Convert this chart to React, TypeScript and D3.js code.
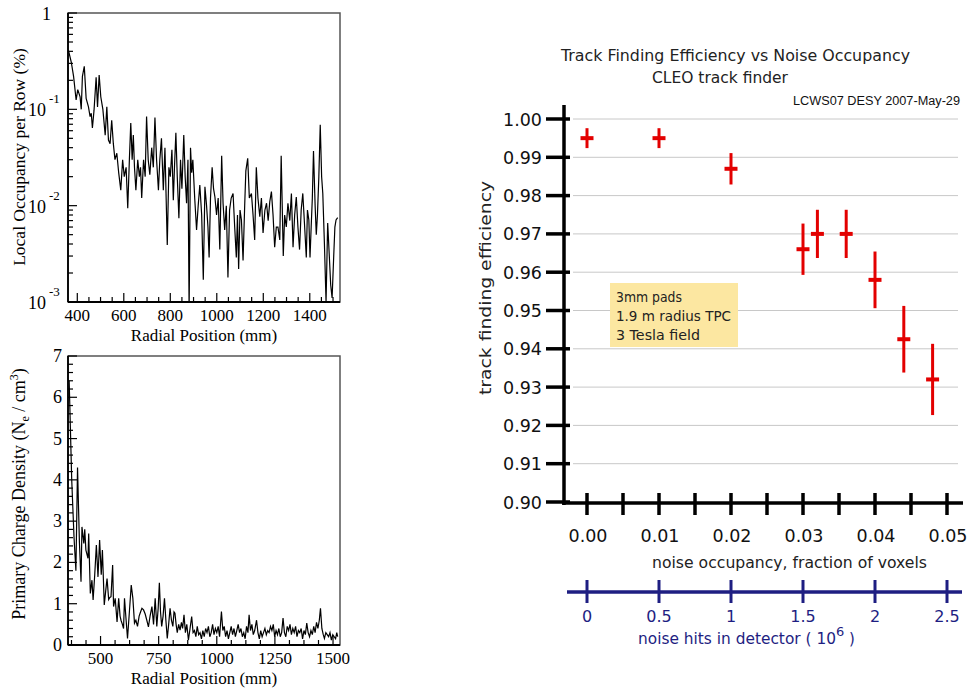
import React from "react";
import * as d3 from "d3";

// ---------- Left top panel: local occupancy per row (%) ----------
const occR = [362,374,384,395,402,412,417,422,430,438,448,455,460,465,472,481,487,494,501,510,520,527,534,541,548,555,562,570,578,587,595,602,610,617,624,630,636,641,646,652,660,667,672,677,685,692,698,705,712,720,727,734,741,749,755,762,770,777,787,794,800,807,813,818,824,830,837,844,850,858,864,870,876,881,887,892,897,905,913,920,927,935,942,949,956,962,967,973,980,986,992,999,1006,1013,1021,1027,1034,1041,1048,1055,1062,1070,1077,1084,1089,1094,1100,1106,1113,1120,1125,1133,1140,1149,1156,1163,1170,1177,1185,1192,1199,1207,1214,1221,1228,1235,1242,1249,1256,1263,1271,1277,1286,1292,1299,1306,1314,1321,1328,1335,1342,1349,1356,1363,1370,1378,1385,1390,1396,1401,1406,1411,1416,1423,1428,1433,1439,1445,1451,1456,1463,1470,1477,1484,1490,1496,1503,1508,1513,1520];
const occVal = [0.41,0.31,0.22,0.125,0.16,0.135,0.10,0.22,0.28,0.13,0.106,0.084,0.091,0.064,0.098,0.215,0.106,0.227,0.135,0.10,0.054,0.106,0.048,0.044,0.077,0.044,0.030,0.035,0.022,0.0145,0.03,0.02,0.025,0.0094,0.03,0.072,0.03,0.054,0.025,0.0145,0.03,0.02,0.025,0.012,0.03,0.02,0.084,0.03,0.021,0.04,0.025,0.082,0.03,0.0145,0.03,0.05,0.0145,0.04,0.0039,0.025,0.02,0.038,0.0114,0.025,0.057,0.02,0.0074,0.03,0.015,0.054,0.02,0.0106,0.03,0.0008,0.04,0.022,0.03,0.012,0.0056,0.01,0.0164,0.008,0.0017,0.0157,0.01,0.006,0.0029,0.012,0.025,0.015,0.0123,0.008,0.012,0.0035,0.033,0.0106,0.0056,0.01,0.0018,0.009,0.012,0.0134,0.006,0.0029,0.008,0.0022,0.009,0.0071,0.0027,0.01,0.023,0.031,0.012,0.0134,0.008,0.0044,0.025,0.012,0.0077,0.012,0.0052,0.009,0.0106,0.007,0.011,0.014,0.008,0.0037,0.006,0.006,0.0044,0.033,0.003,0.008,0.006,0.0106,0.007,0.0134,0.0037,0.008,0.0123,0.006,0.0035,0.009,0.0134,0.006,0.0029,0.009,0.0071,0.0029,0.006,0.012,0.037,0.01,0.005,0.008,0.02,0.069,0.02,0.0134,0.004,0.001,0.0066,0.003,0.0015,0.0011,0.003,0.006,0.0071,0.0075];
const occXTicks = [400, 600, 800, 1000, 1200, 1400];
const occYDecades = [1, 0.1, 0.01, 0.001];
const occYExp = ["", "-1", "-2", "-3"];

// ---------- Left bottom panel: primary charge density ----------
const chgR = [365,376,386,394,401,409,416,420,428,432,437,446,449,456,463,468,475,482,489,496,503,508,516,522,528,535,540,545,552,556,563,571,578,584,588,594,599,603,610,616,624,632,639,646,652,659,666,672,678,685,692,699,706,713,721,728,735,742,748,753,758,763,769,775,781,787,793,799,805,811,816,820,825,830,836,842,848,853,859,865,871,878,885,892,898,904,910,916,922,928,934,940,946,952,958,964,970,976,982,988,994,1000,1006,1012,1020,1026,1032,1038,1044,1050,1056,1062,1068,1074,1080,1086,1092,1098,1104,1110,1116,1122,1128,1134,1139,1145,1151,1157,1163,1171,1177,1183,1189,1195,1201,1207,1213,1219,1225,1231,1237,1243,1249,1255,1261,1267,1273,1279,1285,1291,1297,1303,1309,1315,1321,1327,1333,1339,1345,1351,1357,1363,1369,1375,1381,1387,1393,1399,1405,1411,1417,1423,1429,1435,1441,1446,1452,1458,1463,1469,1475,1481,1487,1493,1499,1505,1511,1516,1520];
const chgVal = [6.4,4.0,2.6,1.8,4.3,2.5,1.53,2.86,2.46,2.8,2.3,2.1,2.7,1.25,1.57,1.09,1.7,2.42,1.65,2.54,1.7,2.3,0.97,1.3,1.61,1.1,1.15,1.17,1.94,0.93,1.13,0.56,1.13,0.7,0.6,0.5,0.4,1.13,0.6,0.16,0.8,1.45,1.13,0.53,0.6,0.45,0.7,0.8,0.89,0.85,0.75,0.6,0.44,0.7,0.93,0.5,1.13,0.45,0.9,1.51,0.8,0.45,0.7,1.13,0.6,0.16,0.5,0.89,0.6,0.45,0.8,0.77,0.5,0.3,0.5,0.36,0.55,0.4,0.73,0.3,0.5,0.12,0.4,0.69,0.3,0.35,0.2,0.45,0.25,0.3,0.15,0.35,0.2,0.4,0.3,0.45,0.2,0.3,0.5,0.25,0.4,0.3,0.45,0.2,0.81,0.35,0.45,0.2,0.35,0.15,0.3,0.45,0.25,0.4,0.2,0.35,0.5,0.3,0.4,0.2,0.3,0.15,0.45,0.3,0.73,0.35,0.5,0.25,0.35,0.6,0.3,0.15,0.35,0.2,0.3,0.4,0.25,0.35,0.3,0.45,0.35,0.5,0.2,0.35,0.25,0.4,0.2,0.3,0.65,0.3,0.2,0.45,0.35,0.5,0.25,0.4,0.3,0.45,0.2,0.35,0.3,0.4,0.15,0.35,0.25,0.53,0.3,0.2,0.35,0.25,0.45,0.3,0.55,0.4,0.6,0.89,0.4,0.25,0.16,0.3,0.25,0.2,0.3,0.12,0.25,0.2,0.15,0.3,0.2];
const chgXTicks = [500, 750, 1000, 1250, 1500];
const chgYTicks = [0, 1, 2, 3, 4, 5, 6, 7];

// ---------- Right panel: efficiency vs noise occupancy ----------
const effOcc = [0.0, 0.01, 0.02, 0.03, 0.032, 0.036, 0.04, 0.044, 0.048];
const effVal = [0.995, 0.995, 0.987, 0.966, 0.970, 0.970, 0.958, 0.9425, 0.932];
const effErr = [0.0026, 0.0026, 0.0041, 0.0067, 0.0063, 0.0063, 0.0074, 0.0087, 0.0093];
const effYTicks = [0.90, 0.91, 0.92, 0.93, 0.94, 0.95, 0.96, 0.97, 0.98, 0.99, 1.00];
const occLabelTicks = [0.0, 0.01, 0.02, 0.03, 0.04, 0.05];
const occMinorTicks = [0.0, 0.005, 0.01, 0.015, 0.02, 0.025, 0.03, 0.035, 0.04, 0.045, 0.05];
const hitsTicks = [0, 0.5, 1, 1.5, 2, 2.5];
const hitsLabels = ["0", "0.5", "1", "1.5", "2", "2.5"];
const boxLines = ["3mm pads", "1.9 m radius TPC", "3 Tesla field"];

const SERIF = "'Liberation Serif', 'Times New Roman', serif";
const SANS = "'DejaVu Sans', Verdana, sans-serif";
const ARIAL = "'Liberation Sans', Arial, sans-serif";
const RED = "#e30000";
const NAVY = "#1e1e82";

export default function App() {
  // left panels
  const xL = d3.scaleLinear().domain([360, 1530]).range([68, 340]);
  const yOcc = d3.scaleLog().domain([0.001, 1]).range([302, 13]);
  const yChg = d3.scaleLinear().domain([0, 7]).range([645, 356]);

  const occLine = d3
    .line<number>()
    .x((_, i) => xL(occR[i]))
    .y((d) => yOcc(Math.max(d, 0.0004)));
  const chgLine = d3
    .line<number>()
    .x((_, i) => xL(chgR[i]))
    .y((d) => yChg(d));

  const occMinorX = d3.range(400, 1530, 50);
  const chgMinorX = d3.range(375, 1530, 62.5);
  const logMinor: number[] = [];
  [0.001, 0.01, 0.1].forEach((dec) => {
    for (let m = 2; m <= 9; m++) logMinor.push(dec * m);
  });
  const chgMinorY = d3.range(0, 7.01, 0.2);

  // right panel
  const xO = d3.scaleLinear().domain([0, 0.05]).range([587, 947]);
  const yE = d3.scaleLinear().domain([0.9, 1.0]).range([502, 119]);
  const xH = d3.scaleLinear().domain([0, 2.5]).range([587, 947]);

  return (
    <svg
      width={973}
      height={692}
      viewBox="0 0 973 692"
      style={{ position: "absolute", left: 0, top: 0, background: "#fff" }}
    >
      <defs>
        <clipPath id="clipTop">
          <rect x={68} y={13} width={272} height={289} />
        </clipPath>
        <clipPath id="clipBot">
          <rect x={68} y={356} width={272} height={289} />
        </clipPath>
      </defs>
      <rect x={0} y={0} width={973} height={692} fill="#fff" />

      {/* ===== Top-left panel ===== */}
      <g>
        <rect x={68} y={13} width={272} height={289} fill="none" stroke="#555" strokeWidth={1.5} />
        <path d={occLine(occVal) || ""} fill="none" stroke="#000" strokeWidth={1.2} clipPath="url(#clipTop)" />
        <line x1={68} y1={13} x2={68} y2={302} stroke="#000" strokeWidth={1.8} />
        <line x1={68} y1={302} x2={340} y2={302} stroke="#000" strokeWidth={1.8} />
        {occMinorX.map((v) => (
          <line key={"otx" + v} x1={xL(v)} x2={xL(v)} y1={302} y2={occXTicks.includes(v) ? 293 : 297} stroke="#000" strokeWidth={1.2} />
        ))}
        {occYDecades.map((v) => (
          <line key={"oty" + v} x1={68} x2={77} y1={yOcc(v)} y2={yOcc(v)} stroke="#000" strokeWidth={1.2} />
        ))}
        {logMinor.map((v) => (
          <line key={"otm" + v} x1={68} x2={73} y1={yOcc(v)} y2={yOcc(v)} stroke="#000" strokeWidth={1.2} />
        ))}
        {occXTicks.map((v) => (
          <text key={"otl" + v} x={xL(v)} y={321} textAnchor="middle" fontFamily={SERIF} fontSize={17}>
            {v}
          </text>
        ))}
        {occYDecades.map((v, i) =>
          i === 0 ? (
            <text key={"oyl" + v} x={51} y={yOcc(v) + 7} textAnchor="end" fontFamily={SERIF} fontSize={18}>
              1
            </text>
          ) : (
            <g key={"oyl" + v}>
              <text x={46} y={yOcc(v) + 7} textAnchor="end" fontFamily={SERIF} fontSize={18}>
                10
              </text>
              <text x={49} y={yOcc(v) - 6} textAnchor="start" fontFamily={SERIF} fontSize={13}>
                {occYExp[i]}
              </text>
            </g>
          )
        )}
        <text x={204} y={341} textAnchor="middle" fontFamily={SERIF} fontSize={17}>
          Radial Position (mm)
        </text>
        <text
          transform="translate(25,157) rotate(-90)"
          textAnchor="middle"
          fontFamily={SERIF}
          fontSize={17.5}
        >
          Local Occupancy per Row (%)
        </text>
      </g>

      {/* ===== Bottom-left panel ===== */}
      <g>
        <rect x={68} y={356} width={272} height={289} fill="none" stroke="#555" strokeWidth={1.5} />
        <path d={chgLine(chgVal) || ""} fill="none" stroke="#000" strokeWidth={1.2} clipPath="url(#clipBot)" />
        <line x1={68} y1={356} x2={68} y2={645} stroke="#000" strokeWidth={1.8} />
        <line x1={68} y1={645} x2={340} y2={645} stroke="#000" strokeWidth={1.8} />
        {chgMinorX.map((v) => (
          <line key={"ctx" + v} x1={xL(v)} x2={xL(v)} y1={645} y2={chgXTicks.includes(v) ? 636 : 640} stroke="#000" strokeWidth={1.2} />
        ))}
        {chgMinorY.map((v) => (
          <line
            key={"cty" + v}
            x1={68}
            x2={Math.abs(v - Math.round(v)) < 1e-6 ? 77 : 73}
            y1={yChg(v)}
            y2={yChg(v)}
            stroke="#000"
            strokeWidth={1.2}
          />
        ))}
        {chgXTicks.map((v) => (
          <text key={"cxl" + v} x={xL(v)} y={664} textAnchor="middle" fontFamily={SERIF} fontSize={17}>
            {v}
          </text>
        ))}
        {chgYTicks.map((v) => (
          <text key={"cyl" + v} x={62} y={yChg(v) + 6} textAnchor="end" fontFamily={SERIF} fontSize={18}>
            {v}
          </text>
        ))}
        <text x={204} y={684} textAnchor="middle" fontFamily={SERIF} fontSize={17}>
          Radial Position (mm)
        </text>
        <text transform="translate(25,494) rotate(-90)" textAnchor="middle" fontFamily={SERIF} fontSize={18}>
          Primary Charge Density (N
          <tspan fontSize={12} dy={4}>e</tspan>
          <tspan dy={-4}> / cm</tspan>
          <tspan fontSize={12} dy={-7}>3</tspan>
          <tspan dy={7}>)</tspan>
        </text>
      </g>

      {/* ===== Right panel ===== */}
      <g>
        <text x={561} y={61} fontFamily={SANS} fontSize={16} textLength={349} lengthAdjust="spacingAndGlyphs" fill="#222">
          Track Finding Efficiency vs Noise Occupancy
        </text>
        <text x={652} y={83} fontFamily={SANS} fontSize={16} textLength={136} lengthAdjust="spacingAndGlyphs" fill="#222">
          CLEO track finder
        </text>
        <text x={960} y={105} textAnchor="end" fontFamily={ARIAL} fontSize={12} textLength={167} lengthAdjust="spacingAndGlyphs" fill="#111">
          LCWS07 DESY 2007-May-29
        </text>

        {/* grid */}
        {effYTicks.slice(1).map((v) => (
          <line key={"g" + v} x1={573} x2={958} y1={yE(v)} y2={yE(v)} stroke="#c8c8c8" strokeWidth={1} />
        ))}

        {/* info box */}
        <rect x={610} y={283} width={128} height={64} fill="#fce7a1" />
        {boxLines.map((t, i) => (
          <text key={t} x={616} y={302 + i * 19} fontFamily={SANS} fontSize={14} fill="#222" lengthAdjust="spacingAndGlyphs" textLength={[66, 115, 84][i]}>
            {t}
          </text>
        ))}

        {/* axes */}
        <line x1={564} x2={564} y1={105} y2={505} stroke="#000" strokeWidth={3.5} />
        <line x1={562} x2={963} y1={503} y2={503} stroke="#000" strokeWidth={3.5} />
        {effYTicks.map((v) => (
          <g key={"yt" + v}>
            <line x1={546} x2={570} y1={yE(v)} y2={yE(v)} stroke="#000" strokeWidth={3.5} />
            <text x={542} y={yE(v) + 6.5} textAnchor="end" fontFamily={SANS} fontSize={17.5} fill="#111">
              {v.toFixed(2)}
            </text>
          </g>
        ))}
        {occMinorTicks.map((v) => (
          <line key={"xt" + v} x1={xO(v)} x2={xO(v)} y1={493} y2={515} stroke="#000" strokeWidth={3.5} />
        ))}
        {occLabelTicks.map((v) => (
          <text key={"xl" + v} x={xO(v) + 1} y={542} textAnchor="middle" fontFamily={SANS} fontSize={17.5} fill="#111">
            {v.toFixed(2)}
          </text>
        ))}
        <text x={652} y={568} fontFamily={SANS} fontSize={15} textLength={275} lengthAdjust="spacingAndGlyphs" fill="#222">
          noise occupancy, fraction of voxels
        </text>
        <text
          transform="translate(491,288) rotate(-90)"
          textAnchor="middle"
          fontFamily={SANS}
          fontSize={15}
          textLength={214}
          lengthAdjust="spacingAndGlyphs"
          fill="#222"
        >
          track finding efficiency
        </text>

        {/* secondary axis */}
        <line x1={567} x2={962} y1={592} y2={592} stroke={NAVY} strokeWidth={3.5} />
        {hitsTicks.map((v, i) => (
          <g key={"h" + v}>
            <line x1={xH(v)} x2={xH(v)} y1={580} y2={603} stroke={NAVY} strokeWidth={3} />
            <text x={xH(v)} y={622} textAnchor="middle" fontFamily={SANS} fontSize={16} fill={NAVY}>
              {hitsLabels[i]}
            </text>
          </g>
        ))}
        <text x={638} y={644} fontFamily={SANS} fontSize={15} fill={NAVY}>
          <tspan textLength={198} lengthAdjust="spacingAndGlyphs">noise hits in detector ( 10</tspan>
          <tspan fontSize={13} dy={-8}>6</tspan>
          <tspan dy={8}> )</tspan>
        </text>

        {/* data */}
        {effVal.map((v, i) => (
          <g key={"p" + i}>
            <line x1={xO(effOcc[i])} x2={xO(effOcc[i])} y1={yE(v + effErr[i])} y2={yE(v - effErr[i])} stroke={RED} strokeWidth={3} />
            <line x1={xO(effOcc[i]) - 6.5} x2={xO(effOcc[i]) + 6.5} y1={yE(v)} y2={yE(v)} stroke={RED} strokeWidth={4} />
          </g>
        ))}
      </g>
    </svg>
  );
}
